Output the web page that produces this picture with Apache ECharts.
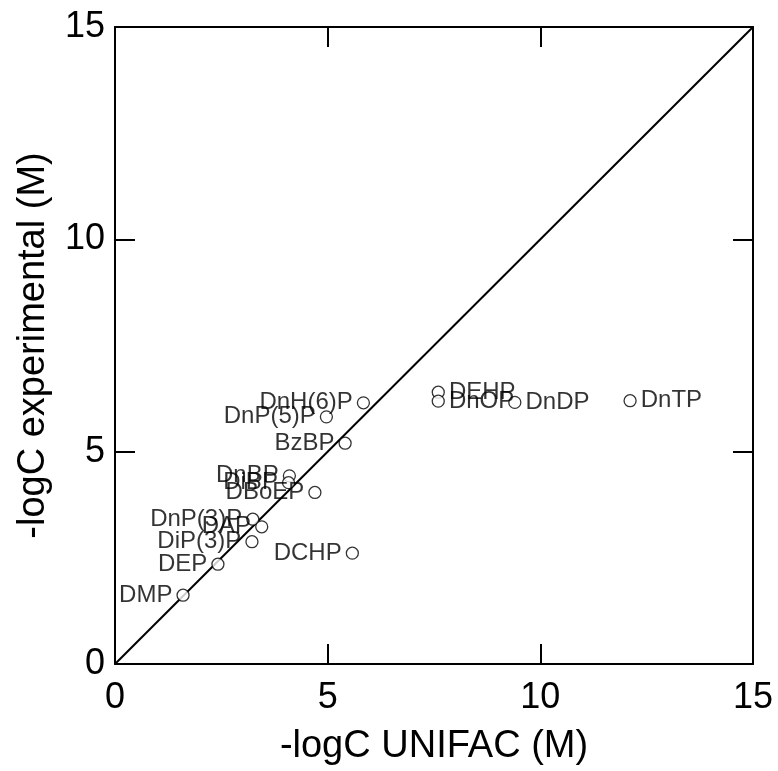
<!DOCTYPE html>
<html>
<head>
<meta charset="utf-8">
<script src="https://cdn.jsdelivr.net/npm/echarts@6/dist/echarts.min.js"></script>
<style>
  html, body { margin: 0; padding: 0; background: #fff; }
  #container { width: 778px; height: 771px; }
</style>
</head>
<body>
<div id="container"></div>
<script>
// 化合物名称
var names = ["DMP", "DEP", "DiP(3)P", "DnP(3)P", "DAP", "DnBP", "DiBP", "DBoEP", "DCHP",
             "BzBP", "DnP(5)P", "DnH(6)P", "DEHP", "DnOP", "DnDP", "DnTP"];
// -logC UNIFAC (M)
var unifac = [1.60, 2.42, 3.22, 3.24, 3.45, 4.10, 4.08, 4.70, 5.58,
              5.41, 4.97, 5.84, 7.60, 7.60, 9.40, 12.11];
// -logC experimental (M)
var experimental = [1.62, 2.35, 2.88, 3.41, 3.23, 4.43, 4.27, 4.04, 2.61,
                    5.20, 5.82, 6.15, 6.40, 6.19, 6.16, 6.20];
// 标签在右边的点
var rightLabels = ["DEHP", "DnOP", "DnDP", "DnTP"];
// 1:1 参考线
var diagonal = [[0, 0], [15, 15]];
var ticks = [0, 5, 10, 15];

var FONT = "Liberation Sans";

// 组装散点数据
var points = [];
for (var i = 0; i < names.length; i++) {
    var right = rightLabels.indexOf(names[i]) >= 0;
    points.push({
        name: names[i],
        value: [unifac[i], experimental[i]],
        label: {
            position: right ? "right" : "left",
            distance: 4
        }
    });
}

function frameAxis(pos, show) {
    return {
        type: "value",
        position: pos,
        min: ticks[0],
        max: ticks[ticks.length - 1],
        interval: 5,
        axisLine: { show: true, onZero: false, lineStyle: { color: "#000", width: 2 } },
        axisTick: { show: true, inside: true, length: 20, lineStyle: { color: "#000", width: 2 } },
        axisLabel: { show: show, color: "#000", fontFamily: FONT, fontSize: 36 },
        splitLine: { show: false }
    };
}

var xBottom = frameAxis("bottom", true);
xBottom.name = "-logC UNIFAC (M)";
xBottom.nameLocation = "middle";
xBottom.nameGap = 64;
xBottom.nameTextStyle = { color: "#000", fontFamily: FONT, fontSize: 38 };
xBottom.axisLabel.margin = 16;

var yLeft = frameAxis("left", true);
yLeft.name = "-logC experimental (M)";
yLeft.nameLocation = "middle";
yLeft.nameGap = 62;
yLeft.nameTextStyle = { color: "#000", fontFamily: FONT, fontSize: 38 };
yLeft.axisLabel.margin = 10;

var xTop = frameAxis("top", false);
var yRight = frameAxis("right", false);

var option = {
    backgroundColor: "#fff",
    animation: false,
    grid: { left: 115, top: 27, right: 25, bottom: 107 },
    xAxis: [xBottom, xTop],
    yAxis: [yLeft, yRight],
    series: [
        {
            type: "line",
            data: diagonal,
            symbol: "none",
            lineStyle: { color: "#000", width: 2 },
            z: 1
        },
        {
            type: "scatter",
            data: points,
            symbol: "circle",
            symbolSize: 12,
            itemStyle: { color: "#fff", borderColor: "#000", borderWidth: 1.3 },
            label: {
                show: true,
                formatter: "{b}",
                color: "#000",
                textBorderWidth: 0,
                fontFamily: FONT,
                fontSize: 24
            },
            z: 2
        }
    ]
};

var myChart = echarts.init(document.getElementById("container"));
myChart.setOption(option);
</script>
</body>
</html>
